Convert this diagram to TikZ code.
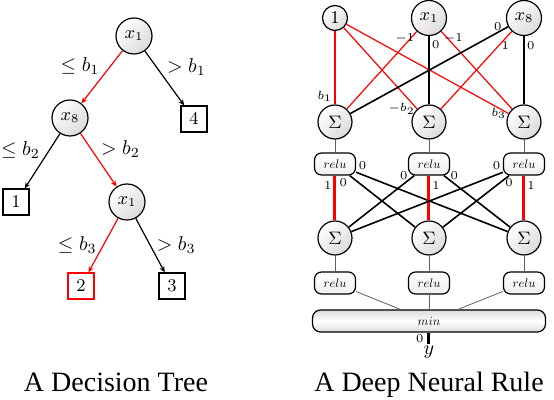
\documentclass[tikz,border=0pt]{standalone}
\usepackage{amsmath,amssymb}
\usepackage{fontspec}
\setmainfont{Liberation Serif}
\usetikzlibrary{positioning,arrows.meta}
\newcommand{\netop}[1]{\scalebox{0.62}{$#1$}}

\begin{document}
\begin{tikzpicture}[on grid,>={Stealth[length=3pt,width=2.6pt]}]

    \tikzset{unit/.style={circle,draw,semithick,shading=axis,top color=white,bottom color=gray!28,shading angle=45,minimum size=17.5pt,inner sep=0pt,font=\small}}
    \tikzset{leaf/.style={draw,rectangle,semithick,minimum size=13pt,inner sep=0pt,font=\small}}
    \tikzset{gate/.style={draw,semithick,rectangle,rounded corners=3.5pt,minimum width=20.5pt,minimum height=11pt,inner sep=0pt,top color=white,bottom color=gray!12}}
    \tikzset{minbox/.style={draw,semithick,rectangle,rounded corners=4pt,minimum width=116.5pt,minimum height=11pt,inner sep=0pt,top color=gray!28,bottom color=gray!28,middle color=white}}
    \tikzset{lbl/.style={inner sep=1pt,text=black}}
    \tikzset{wt/.style={inner sep=1pt,text=black,font=\fontsize{6}{7}\selectfont}}
    \useasboundingbox (0,0) rectangle (277pt,-200pt);

    % decision tree
    \node[unit,minimum size=18pt] (x1) at (67pt,-18pt) {$x_1$};
    \node[unit,minimum size=18pt] (x8) [below left = 41pt and 32pt of x1] {$x_8$};
    \node[leaf] (l4) [below right = 41.5pt and 30pt of x1] {$4$};
    \node[leaf] (l1) [below left = 42pt and 27pt of x8] {$1$};
    \node[unit,minimum size=18pt] (x1b) [below right = 42pt and 28.5pt of x8] {$x_1$};
    \node[leaf,draw=red] (l2) [below left = 42pt and 23pt of x1b] {$2$};
    \node[leaf] (l3) [below right = 42pt and 22.5pt of x1b] {$3$};

    \path[->,semithick]
    (x1)
    edge [red] node [lbl,above left] {$\le b_1$} (x8)
    edge [] node [lbl,above right] {$> b_1$} (l4)
    (x8)
    edge [] node [lbl,above left] {$\le b_2$} (l1)
    edge [red] node [lbl,above right] {$> b_2$} (x1b)
    (x1b)
    edge [red] node [lbl,left=2pt] {$\le b_3$} (l2)
    edge [] node [lbl,right=2pt] {$> b_3$} (l3)
    ;

    % neural rule
    \node[unit,minimum size=12.5pt] (one) at (167.5pt,-9pt) {$1$};
    \node[unit] (xa) [right = 47pt of one] {$x_1$};
    \node[unit] (xb) [right = 47.5pt of xa] {$x_8$};
    \node[unit,minimum size=17pt] (s1) [below = 52pt of one] {$\Sigma$};
    \node[unit,minimum size=17pt] (s2) [below = 52pt of xa] {$\Sigma$};
    \node[unit,minimum size=17pt] (s3) [below = 52pt of xb] {$\Sigma$};
    \node[gate] (r1) [below = 21pt of s1] {\netop{relu}};
    \node[gate] (r2) [below = 21pt of s2] {\netop{relu}};
    \node[gate] (r3) [below = 21pt of s3] {\netop{relu}};
    \node[unit,minimum size=17pt] (t1) [below = 37pt of r1] {$\Sigma$};
    \node[unit,minimum size=17pt] (t2) [below = 37pt of r2] {$\Sigma$};
    \node[unit,minimum size=17pt] (t3) [below = 37pt of r3] {$\Sigma$};
    \node[gate] (q1) [below = 22.5pt of t1] {\netop{relu}};
    \node[gate] (q2) [below = 22.5pt of t2] {\netop{relu}};
    \node[gate] (q3) [below = 22.5pt of t3] {\netop{relu}};
    \node[minbox] (mn) [below = 19pt of q2] {\netop{min}};
    \node[inner sep=0.5pt] (y) [below = 15.5pt of mn] {$y$};

    \path[semithick]
    (one)
    edge [red,line width=1pt] node [wt,pos=1,above left] {$b_1$} (s1)
    edge [red] node [wt,pos=1,left] {$-b_2$} (s2)
    edge [red] node [wt,pos=1,left] {$b_3$} (s3)
    (xa)
    edge [red] node [wt,pos=0,below left] {$-1$} (s1)
    edge [line width=1.2pt] node [wt,pos=.12,right] {$0$} (s2)
    edge [red] node [wt,pos=0,below right] {$-1$} (s3)
    (xb)
    edge [line width=0.8pt] node [wt,pos=0,left=2pt] {$0$} (s1)
    edge [red] node [wt,pos=.18,right] {$1$} (s2)
    edge [line width=1.2pt] node [wt,pos=.14,right] {$0$} (s3)
    ;

    \path[line width=0.8pt]
    (r1)
    edge [red,line width=1.5pt] node [wt,pos=.22,left] {$1$} (t1)
    edge [] node [wt,pos=0,below left] {$0$} (t2)
    edge [] node [wt,pos=0,above right] {$0$} (t3)
    (r2)
    edge [] node [wt,pos=0,left=2pt] {$0$} (t1)
    edge [red,line width=1.5pt] node [wt,pos=.22,right] {$1$} (t2)
    edge [] node [wt,pos=0,right=2pt] {$0$} (t3)
    (r3)
    edge [] node [wt,pos=0,above left] {$0$} (t1)
    edge [] node [wt,pos=0,below] {$0$} (t2)
    edge [red,line width=1.5pt] node [wt,pos=.22,right] {$1$} (t3)
    ;

    \path[thin,gray!75!black]
    (s1) edge (r1)
    (s2) edge (r2)
    (s3) edge (r3)
    (t1) edge (q1)
    (t2) edge (q2)
    (t3) edge (q3)
    (q1) edge (mn)
    (q2) edge (mn)
    (q3) edge (mn)
    ;
    \path[line width=1.5pt]
    (mn) edge node [wt,pos=.5,left=1pt] {$0$} (y);

    \node[anchor=base,font=\fontsize{14}{16}\selectfont] (captree) at (58pt,-196pt) {A Decision Tree};
    \node[anchor=base,font=\fontsize{14}{16}\selectfont] (capnet) at (214.5pt,-196pt) {A Deep Neural Rule};
\end{tikzpicture}
\end{document}
